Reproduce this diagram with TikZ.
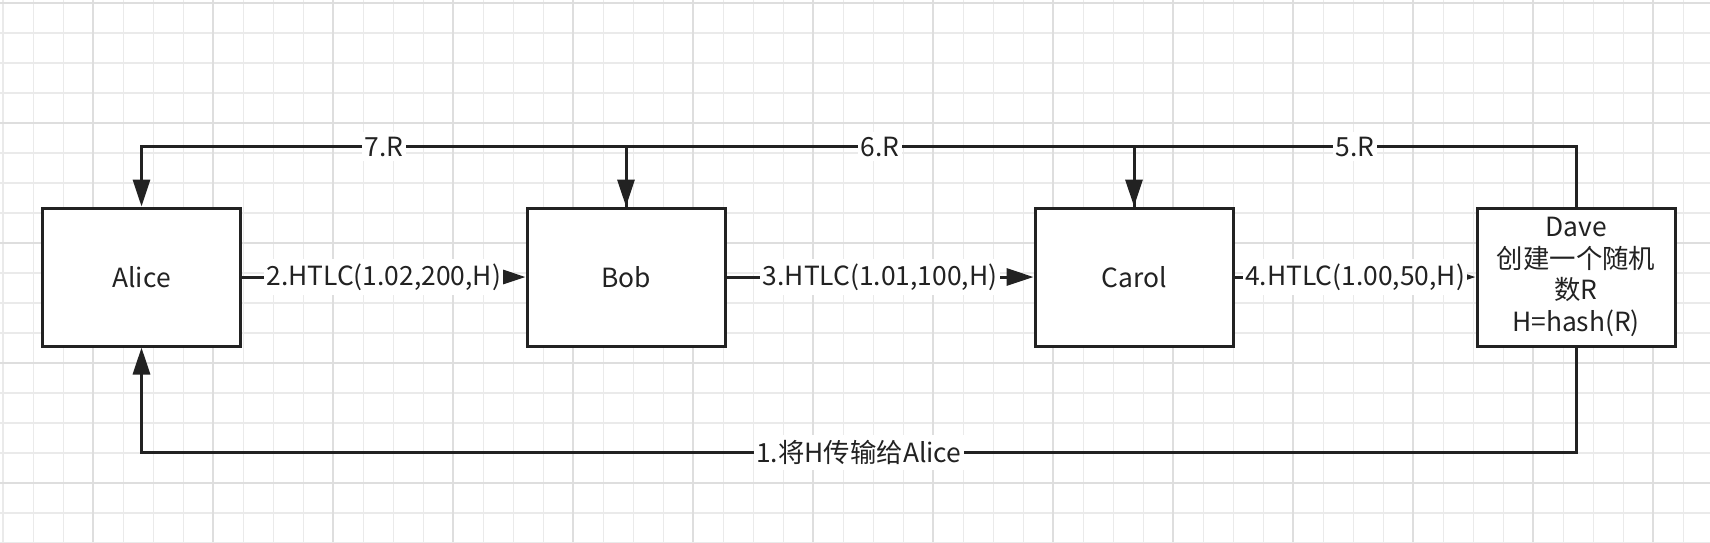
\documentclass[tikz,border=0pt]{standalone}
\usepackage{fontspec}
\setmainfont{Noto Sans CJK SC}
\usetikzlibrary{arrows.meta}

\definecolor{ink}{RGB}{34,34,34}
\definecolor{gridminor}{RGB}{234,234,234}
\definecolor{gridmajor}{RGB}{222,222,222}

\tikzset{
  party/.style={draw=ink, line width=1.5pt, fill=white, text=ink,
    minimum width=99pt, minimum height=69pt, inner sep=0pt, align=center},
  flow/.style={draw=ink, line width=1.5pt,
    -{Triangle[length=13.5pt,width=8.5pt]}},
  lbl/.style={fill=white, text=ink, inner xsep=1.2pt, inner ysep=2.5pt},
  minorline/.style={draw=gridminor, line width=0.8pt},
  majorline/.style={draw=gridmajor, line width=0.9pt}
}

\begin{document}
\begin{tikzpicture}[x=0.5pt,y=0.5pt,yscale=-1,xscale=1]
\fontsize{13.2}{15.8}\selectfont
\useasboundingbox (0,0) rectangle (1710,542);
\fill[white] (0,0) rectangle (1710,542);

%Shape: Grid
\foreach \gx in {0,...,56} \draw[minorline] (3.3+30*\gx,0) -- (3.3+30*\gx,542);
\foreach \gy in {0,...,18} \draw[minorline] (0,2.7+30*\gy) -- (1710,2.7+30*\gy);
\foreach \gx in {0,...,13} \draw[majorline] (93.3+120*\gx,0) -- (93.3+120*\gx,542);
\foreach \gy in {0,...,4} \draw[majorline] (0,2.7+120*\gy) -- (1710,2.7+120*\gy);

%Shape: Rectangle
\node[party] (alice) at (141.5,277) {Alice};
%Shape: Rectangle
\node[party] (bob) at (626,277) {Bob};
%Shape: Rectangle
\node[party] (carol) at (1134,277) {Carol};
%Shape: Rectangle
\node[party] (dave) at (1576,277) {\raisebox{-2pt}{\parbox{90pt}{\centering Dave\\创建一个随机\\数R\\H=hash(R)}}};

%Straight Lines
\draw[flow] (alice) -- node[lbl] {2.HTLC(1.02,200,H)} (bob);
\draw[flow] (bob) -- node[lbl] {3.HTLC(1.01,100,H)} (carol);
\draw[flow] (carol) -- node[lbl] {4.HTLC(1.00,50,H)} (dave);

%Elbow Lines
\draw[flow] (dave.south) -- ++(0,105) -| node[lbl,pos=0.25] {1.将H传输给Alice} (alice.south);
\draw[flow] (dave.north) -- ++(0,-60) -| node[lbl,pos=0.25] {5.R} (carol.north);
\draw[flow] (carol.north) -- ++(0,-60) -| node[lbl,pos=0.25] {6.R} (bob.north);
\draw[flow] (bob.north) -- ++(0,-60) -| node[lbl,pos=0.25] {7.R} (alice.north);

\end{tikzpicture}
\end{document}
